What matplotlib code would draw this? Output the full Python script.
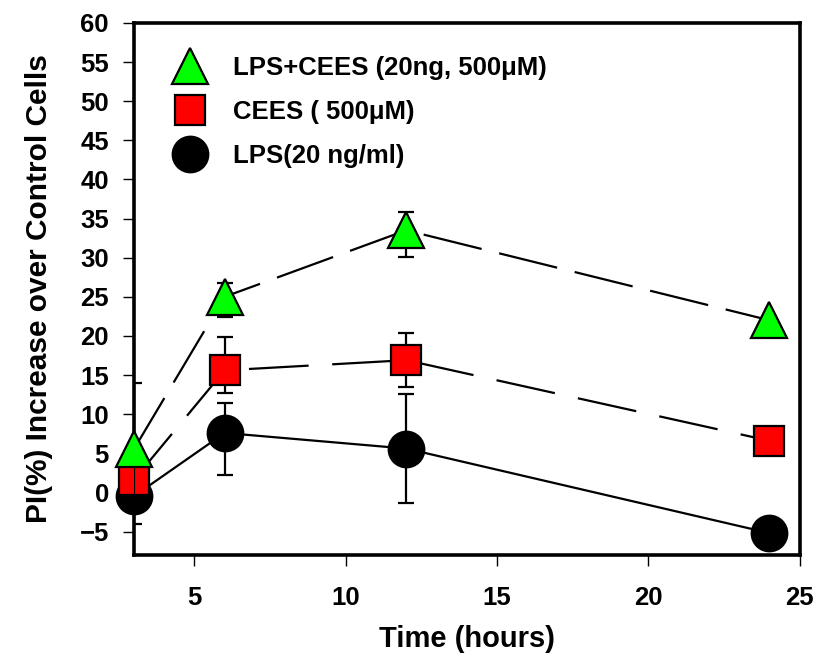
import matplotlib
matplotlib.use("Agg")
import matplotlib.pyplot as plt

plt.rcParams['font.family'] = ['Liberation Sans', 'DejaVu Sans']
plt.rcParams['font.weight'] = 'bold'
plt.rcParams['lines.scale_dashes'] = False

# time points (hours)
hours = [3, 6, 12, 24]

# LPS+CEES (20ng, 500uM)
combo = [5.5, 25.0, 33.5, 22.0]
combo_err_lo = [0, 2.6, 3.4, 0]
combo_err_hi = [0, 1.8, 2.3, 0]

# CEES (500uM)
cees = [1.6, 15.6, 16.9, 6.6]
cees_err_lo = [0, 2.9, 3.4, 0]
cees_err_hi = [0, 4.3, 3.5, 0]

# LPS (20 ng/ml)
lps = [-0.5, 7.6, 5.6, -5.2]
lps_err_lo = [3.6, 5.4, 7.0, 0]
lps_err_hi = [14.5, 3.8, 7.0, 0]

labels = ['LPS+CEES (20ng, 500\u03bcM)', 'CEES ( 500\u03bcM)', 'LPS(20 ng/ml)']

fig = plt.figure(figsize=(8.16, 6.56), dpi=100)
ax = fig.add_axes([0.164, 0.154, 0.816, 0.811])

# connecting lines
ax.plot(hours, combo, color='black', lw=1.6, dashes=(43, 13), zorder=1)
ax.plot(hours, cees, color='black', lw=1.6, dashes=(43, 17), zorder=1)
ax.plot(hours, lps, color='black', lw=1.6, zorder=1)

# error bars
ax.errorbar(hours, combo, yerr=[combo_err_lo, combo_err_hi], fmt='none', ecolor='black',
            elinewidth=1.6, capsize=6, capthick=1.6, zorder=2)
ax.errorbar(hours, cees, yerr=[cees_err_lo, cees_err_hi], fmt='none', ecolor='black',
            elinewidth=1.6, capsize=6, capthick=1.6, zorder=2)
ax.errorbar(hours, lps, yerr=[lps_err_lo, lps_err_hi], fmt='none', ecolor='black',
            elinewidth=1.6, capsize=6, capthick=1.6, zorder=5)

# markers
h_lps, = ax.plot(hours, lps, 'o', ms=26, mfc='black', mec='black', mew=1.2, ls='none',
                 zorder=3, clip_on=False)
h_cees, = ax.plot(hours, cees, 's', ms=21, mfc='#ff0000', mec='black', mew=1.6, ls='none',
                  zorder=4, clip_on=False)
h_combo, = ax.plot(hours, combo, '^', ms=26, mfc='#00ff00', mec='black', mew=1.6, ls='none',
                   zorder=6, clip_on=False)

ax.set_xlim(3, 25)
ax.set_ylim(-8, 60)
ax.set_xticks([5, 10, 15, 20, 25])
ax.set_yticks(range(-5, 61, 5))

for s in ax.spines.values():
    s.set_linewidth(2.6)
ax.tick_params(direction='out', length=8, width=1, labelsize=18.5)
ax.tick_params(axis='x', pad=14)
ax.tick_params(axis='y', pad=10)
for t in ax.get_xticklabels() + ax.get_yticklabels():
    t.set_fontweight('bold')

ax.set_xlabel('Time (hours)', fontsize=21, fontweight='bold', labelpad=11)
ax.set_ylabel('PI(%) Increase over Control Cells', fontsize=21.5, fontweight='bold', labelpad=19)

leg = ax.legend([h_combo, h_cees, h_lps], labels, loc='upper left', frameon=False,
                fontsize=18.5, markerscale=1.0, handlelength=1.5, handletextpad=0.9,
                labelspacing=0.78, borderpad=0, borderaxespad=0,
                bbox_to_anchor=(0.0556, 0.938))
for t in leg.get_texts():
    t.set_fontweight('bold')

fig.savefig('out.png', dpi=100)
